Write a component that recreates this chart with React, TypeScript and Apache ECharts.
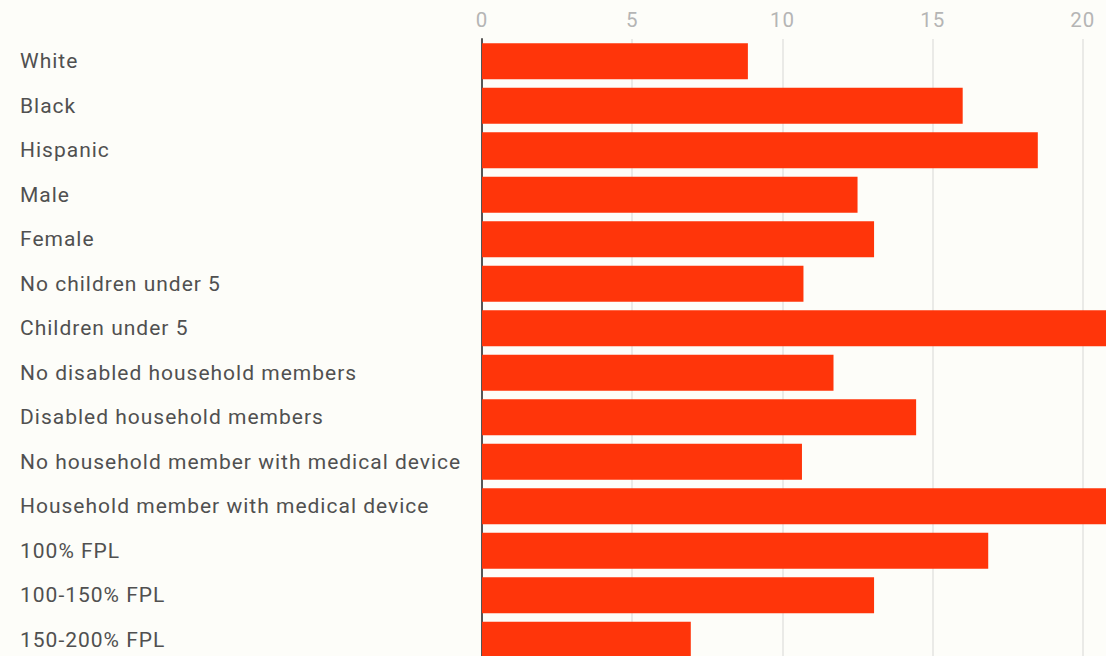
import React, { useEffect, useRef } from "react";
import * as echarts from "echarts";

const categories = [
  "White",
  "Black",
  "Hispanic",
  "Male",
  "Female",
  "No children under 5",
  "Children under 5",
  "No disabled household members",
  "Disabled household members",
  "No household member with medical device",
  "Household member with medical device",
  "100% FPL",
  "100-150% FPL",
  "150-200% FPL",
];

const values = [8.85, 16.0, 18.5, 12.5, 13.05, 10.7, 21.5, 11.7, 14.45, 10.65, 22.0, 16.85, 13.05, 6.95];

const tickValues = [0, 5, 10, 15, 20];

export default function App() {
  const ref = useRef<HTMLDivElement>(null);

  useEffect(() => {
    document.body.style.margin = "0";
    const chart = echarts.init(ref.current!, undefined, { renderer: "svg" });
    chart.setOption({
      animation: false,
      backgroundColor: "#fdfdf9",
      grid: { left: 482, right: 0, top: 39, bottom: 0, containLabel: false },
      xAxis: {
        type: "value",
        position: "top",
        min: 0,
        max: 20.77,
        interval: 5,
        axisLine: { show: false },
        axisTick: { show: false },
        axisLabel: {
          show: true,
          showMaxLabel: false,
          color: "#b5b5b5",
          fontFamily: "Roboto",
          fontSize: 20.5,
          margin: 9,
          formatter: (v: number) => (tickValues.includes(v) ? String(v) : ""),
        },
        splitLine: {
          show: true,
          showMinLine: false,
          showMaxLine: false,
          lineStyle: { color: "#e3e3e0", width: 1.5 },
        },
      },
      yAxis: {
        type: "category",
        data: categories,
        inverse: true,
        axisLine: { show: true, lineStyle: { color: "#555555", width: 2 } },
        axisTick: { show: false },
        splitLine: { show: false },
        axisLabel: {
          align: "left",
          margin: 462,
          color: "#505050",
          fontFamily: "Roboto",
          fontSize: 21,
        },
      },
      series: [
        {
          type: "bar",
          data: values,
          barCategoryGap: "19%",
          itemStyle: { color: "#ff350a" },
          clip: true,
        },
      ],
    });
    return () => chart.dispose();
  }, []);

  return (
    <div style={{ position: "fixed", left: 0, top: 0, width: 1106, height: 656, overflow: "hidden" }}>
      <style>{"#chartbox text { letter-spacing: 1px; }"}</style>
      <div id="chartbox" ref={ref} style={{ width: 1106, height: 662 }} />
    </div>
  );
}
